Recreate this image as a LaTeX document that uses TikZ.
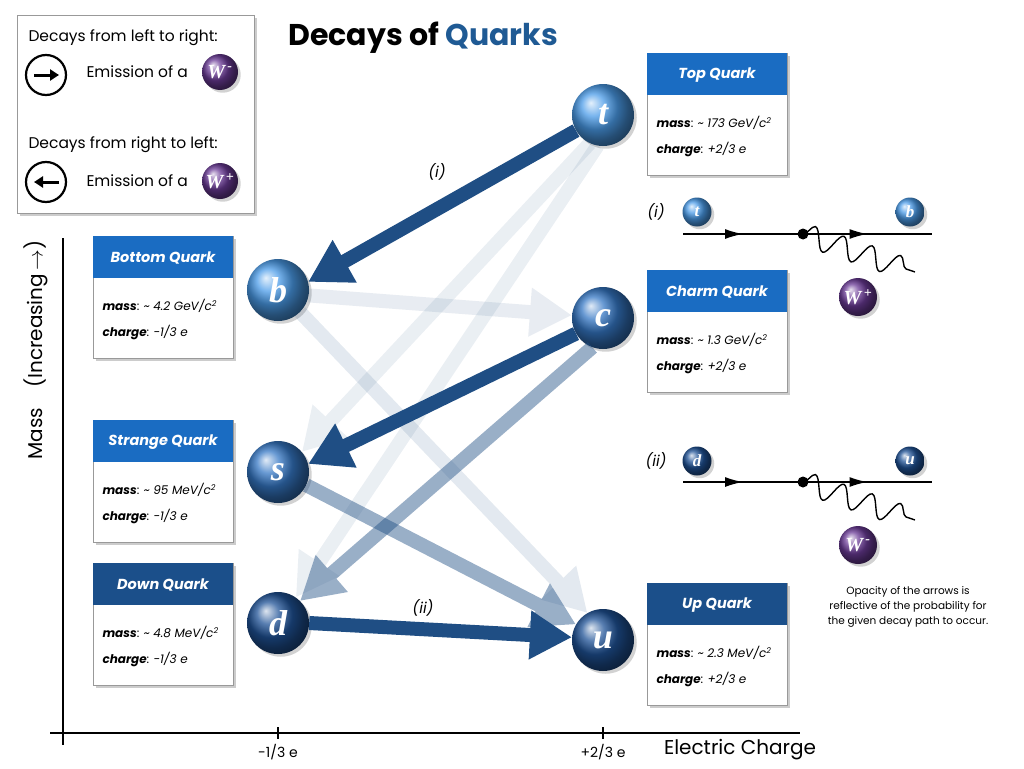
\documentclass[tikz,border=0pt]{standalone}
\usepackage{fontspec}
\setmainfont{Poppins}
\newfontfamily\balfont{Liberation Serif}
\usetikzlibrary{arrows.meta,shadows,decorations.pathmorphing,decorations.markings,calc}
\definecolor{arr}{HTML}{1F4E84}
\definecolor{hdA}{HTML}{1A6CC2}
\definecolor{hdB}{HTML}{1B4F8A}
\definecolor{ttl}{HTML}{1F5A94}
\definecolor{lb}{HTML}{4A9BE8}
\definecolor{mb}{HTML}{3577C4}
\definecolor{db}{HTML}{1F5296}
\definecolor{wp}{HTML}{6A3A96}
\tikzset{
 ball/.style={circle,minimum size=62,inner sep=0,shading=ball,ball color=#1,text=white,font=\balfont\bfseries\itshape\fontsize{36}{36}\selectfont,drop shadow={opacity=0.35}},
 sball/.style={circle,minimum size=29,inner sep=0,shading=ball,ball color=#1,text=white,font=\balfont\bfseries\itshape\fontsize{17}{17}\selectfont,drop shadow={opacity=0.35}},
 wball/.style={circle,minimum size=38,inner sep=0,shading=ball,ball color=wp,text=white,font=\balfont\bfseries\itshape\fontsize{20}{20}\selectfont,drop shadow={opacity=0.35}},
 big/.style={line width=14,-{Triangle[width=46,length=42]},draw=arr,fill=arr},
 card/.style={draw=black!40,fill=white,line width=0.8,drop shadow={opacity=0.4}},
 fl/.style={line width=1.6,postaction={decorate},decoration={markings,mark=at position 0.5 with {\arrow{Latex[length=18,width=10]}}}},
 wave/.style={line width=1.4,decorate,decoration={snake,amplitude=11,segment length=30}},
 lbl/.style={font=\itshape\fontsize{15}{15}\selectfont},
 x=1pt,y=-1pt}
\newcommand{\qcard}[7]{%
 \node[card,minimum width=140,minimum height=122,inner sep=0,anchor=north west] (#1) at (#2,#3) {};
 \fill[#7] (#2,#3) rectangle ++(140,42);
 \node[text=white,font=\bfseries\itshape\fontsize{14.5}{14}\selectfont] at (#2+70,#3+22) {#4};
 \node[anchor=west,font=\fontsize{12}{12}\selectfont] at (#2+6,#3+70) {\textbf{\itshape mass}: \textit{\textasciitilde\ #5}};
 \node[anchor=west,font=\fontsize{12}{12}\selectfont] at (#2+6,#3+96) {\textbf{\itshape charge}: \textit{#6}};}
\newcommand{\decay}[3]{\begin{scope}[transparency group,opacity=#1]\draw[big] #2 -- #3;\end{scope}}
\begin{document}
\begin{tikzpicture}
\useasboundingbox (0,0) rectangle (1024,768);
\fill[white] (0,0) rectangle (1024,768);
% legend
\node[card,minimum width=237,minimum height=198,anchor=north west] (leg) at (17,15) {};
\node[anchor=west,font=\fontsize{15.5}{15}\selectfont] at (25,38) {Decays from left to right:};
\node[draw,circle,line width=2.2,minimum size=40] (l1) at (46,75) {};
\draw[line width=3,-{Triangle[length=9,width=11]}] ($(l1)+(-12,0)$) -- ($(l1)+(13,0)$);
\node[anchor=west,font=\fontsize{15.5}{15}\selectfont] at (83,72) {Emission of a};
\node[wball,minimum size=36] (w1) at (220,72) {W\textsuperscript{\,-}};
\node[anchor=west,font=\fontsize{15.5}{15}\selectfont] at (25,145) {Decays from right to left:};
\node[draw,circle,line width=2.2,minimum size=40] (l2) at (46,182) {};
\draw[line width=3,-{Triangle[length=9,width=11]}] ($(l2)+(13,0)$) -- ($(l2)+(-12,0)$);
\node[anchor=west,font=\fontsize{15.5}{15}\selectfont] at (83,181) {Emission of a};
\node[wball,minimum size=36] (w2) at (220,181) {W\textsuperscript{\,+}};
% title
\node[font=\bfseries\fontsize{30}{30}\selectfont] (title) at (423,38) {Decays of \textcolor{ttl}{Quarks}};
% axes
\draw[line width=1.6] (63,238) -- (63,745);
\draw[line width=1.6] (50,733) -- (800,733);
\draw[line width=1.6] (278,727) -- (278,739);
\draw[line width=1.6] (603,727) -- (603,739);
\node[font=\fontsize{14}{14}\selectfont] at (278,752) {-1/3 e};
\node[font=\fontsize{14}{14}\selectfont] at (603,752) {+2/3 e};
\node[font=\fontsize{20}{20}\selectfont] at (740,750) {Electric Charge};
\node[rotate=90,font=\fontsize{20}{20}\selectfont] at (36,350) {Mass\quad (Increasing\,$\rightarrow$)};
% cards
\qcard{ct}{647}{53}{Top Quark}{173 GeV/c\textsuperscript{2}}{+2/3 e}{hdA}
\qcard{cb}{93}{236}{Bottom Quark}{4.2 GeV/c\textsuperscript{2}}{-1/3 e}{hdA}
\qcard{cc}{647}{270}{Charm Quark}{1.3 GeV/c\textsuperscript{2}}{+2/3 e}{hdA}
\qcard{cs}{93}{420}{Strange Quark}{95 MeV/c\textsuperscript{2}}{-1/3 e}{hdA}
\qcard{cd}{93}{563}{Down Quark}{4.8 MeV/c\textsuperscript{2}}{-1/3 e}{hdB}
\qcard{cu}{647}{583}{Up Quark}{2.3 MeV/c\textsuperscript{2}}{+2/3 e}{hdB}
% quarks
\node[ball=lb] (t) at (603,115) {t};
\node[ball=lb] (b) at (278,290) {b};
\node[ball=mb] (c) at (603,318) {c};
\node[ball=mb] (s) at (278,472) {s};
\node[ball=db] (d) at (278,623) {d};
\node[ball=db] (u) at (603,640) {u};
% decays
\decay{0.09}{(t.-115)}{(s.40)}
\decay{0.09}{(t.-100)}{(d.55)}
\decay{0.1}{(b.-10)}{(c.175)}
\decay{0.12}{(b.-45)}{(u.120)}
\decay{0.45}{(c.-110)}{(d.45)}
\decay{0.45}{(s.-25)}{(u.150)}
\decay{1}{(t.-150)}{(b.15)}
\decay{1}{(c.-150)}{(s.15)}
\decay{1}{(d.0)}{(u.175)}
\node[lbl] at (437,172) {(i)};
\node[lbl] at (423,608) {(ii)};
% feynman (i)
\node[lbl] at (656,212) {(i)};
\node[sball=lb] (ft) at (697,212) {t};
\node[sball=lb] (fb) at (910,212) {b};
\coordinate (a1) at (683,234); \coordinate (v1) at (803,234); \coordinate (e1) at (932,234); \coordinate (z1) at (915,272);
\draw[fl] (a1) -- (v1); \draw[fl] (v1) -- (e1);
\draw[wave] (v1) -- (z1);
\fill (v1) circle (5.5);
\node[wball] (fw1) at (858,297) {W\textsuperscript{\,+}};
% feynman (ii)
\node[lbl] at (656,461) {(ii)};
\node[sball=db] (fd) at (697,461) {d};
\node[sball=db] (fu) at (910,461) {u};
\coordinate (a2) at (683,482); \coordinate (v2) at (803,482); \coordinate (e2) at (932,482); \coordinate (z2) at (915,520);
\draw[fl] (a2) -- (v2); \draw[fl] (v2) -- (e2);
\draw[wave] (v2) -- (z2);
\fill (v2) circle (5.5);
\node[wball] (fw2) at (858,545) {W\textsuperscript{\,-}};
% note
\node[align=center,font=\fontsize{10.5}{15}\selectfont] (note) at (908,607) {Opacity of the arrows is\\reflective of the probability for\\the given decay path to occur.};
\end{tikzpicture}
\end{document}
